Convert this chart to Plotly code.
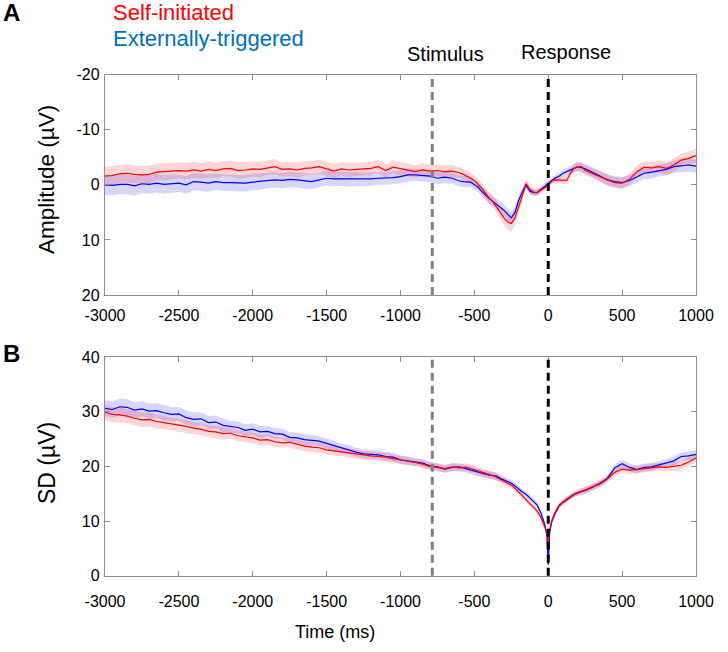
import plotly.graph_objects as go

# ---------------- data ----------------
time_ms = (list(range(-3000, -599, 50)) +
           [-575, -550, -525, -500, -475, -450, -425, -400, -375, -350,
            -325, -300, -275, -250, -225, -200, -175, -150, -125, -100,
            -75, -50, -25, -10, 0, 10, 25, 50, 75, 100,
            125, 150, 175, 200, 225, 250] +
           list(range(300, 1001, 50)))

amp_self = [-1.6, -1.7, -2.0, -2.1, -1.9, -1.8, -1.9, -2.3, -2.4, -2.5,
            -2.6, -2.5, -2.7, -2.5, -2.8, -2.6, -2.9, -3.0, -2.6, -2.7,
            -2.9, -2.8, -3.1, -3.3, -2.8, -2.9, -2.7, -3.0, -3.1, -3.3,
            -2.9, -2.5, -2.9, -2.7, -2.8, -2.9, -3.0, -3.3, -2.6, -3.2,
            -2.9, -2.7, -2.4, -2.7, -2.5, -2.6, -2.4, -2.5, -2.2,
            -1.9, -1.6, -1.2, -0.8, -0.1, 0.6, 1.5, 2.4, 3.0, 3.9,
            5.0, 6.0, 6.7, 7.0, 6.0, 4.0, 1.8, -0.2, 0.8, 1.3,
            1.4, 1.0, 0.6, 0.3, 0.0, -0.3, -0.7, -0.9, -0.9, -0.8,
            -0.8, -2.1, -3.0, -3.3, -3.3, -2.6,
            -2.1, -1.5, -0.9, -0.4, -0.3, -1.0, -2.4, -3.2, -3.1, -3.3,
            -3.0, -3.6, -4.5, -4.8, -5.3]
amp_ext = [0.0, 0.1, -0.1, -0.1, 0.2, -0.2, -0.1, -0.3, -0.1, -0.2,
           -0.3, 0.0, -0.6, -0.5, -0.3, -0.6, -0.4, -0.4, -0.3, -0.3,
           -0.5, -0.6, -0.8, -0.9, -0.8, -1.0, -0.9, -0.7, -0.6, -0.9,
           -1.2, -1.1, -1.1, -1.0, -1.1, -1.0, -1.1, -1.2, -1.2, -1.3,
           -1.5, -1.8, -1.8, -1.7, -1.6, -1.2, -1.4, -1.2, -0.7,
           -0.6, -0.6, -0.5, 0.0, 0.4, 1.2, 1.9, 2.5, 3.0, 3.5,
           4.0, 4.6, 5.3, 6.0, 5.0, 2.8, 1.3, 0.0, 1.1, 1.4,
           1.4, 0.8, 0.2, -0.1, -0.3, -0.5, -0.8, -1.3, -1.6, -2.1,
           -2.4, -2.7, -3.1, -3.3, -3.1, -2.9,
           -2.3, -1.6, -0.9, -0.6, -0.4, -0.8, -1.4, -2.1, -2.3, -2.6,
           -2.8, -3.3, -3.5, -3.6, -3.4]
amp_self_sem = [1.7, 1.7, 1.6, 1.7, 1.6, 1.6, 1.6, 1.5, 1.6, 1.5,
                1.5, 1.5, 1.5, 1.4, 1.5, 1.4, 1.4, 1.4, 1.5, 1.4,
                1.4, 1.4, 1.3, 1.4, 1.3, 1.3, 1.4, 1.3, 1.3, 1.3,
                1.3, 1.3, 1.2, 1.3, 1.2, 1.2, 1.3, 1.2, 1.2, 1.2,
                1.2, 1.2, 1.1, 1.2, 1.1, 1.1, 1.1, 1.1, 1.0,
                1.0, 1.0, 1.0, 0.9, 0.9, 0.9, 1.0, 1.0, 1.0, 1.1,
                1.2, 1.3, 1.4, 1.5, 1.4, 1.2, 1.0, 0.9, 0.8, 0.7,
                0.6, 0.6, 0.5, 0.5, 0.5, 0.5, 0.5, 0.6, 0.6, 0.7,
                0.7, 0.8, 0.8, 0.8, 0.9, 0.9,
                0.9, 1.0, 1.0, 1.0, 1.0, 1.0, 1.1, 1.1, 1.1, 1.1,
                1.2, 1.2, 1.2, 1.2, 1.3]
amp_ext_sem = [1.9, 1.8, 1.8, 1.8, 1.8, 1.7, 1.7, 1.7, 1.7, 1.7,
               1.6, 1.6, 1.6, 1.6, 1.6, 1.5, 1.5, 1.5, 1.5, 1.5,
               1.5, 1.5, 1.4, 1.4, 1.4, 1.4, 1.4, 1.4, 1.4, 1.3,
               1.3, 1.3, 1.3, 1.3, 1.3, 1.2, 1.2, 1.2, 1.2, 1.2,
               1.2, 1.2, 1.1, 1.1, 1.1, 1.1, 1.1, 1.0, 1.0,
               1.0, 1.0, 0.9, 0.9, 0.9, 0.9, 0.9, 0.9, 0.9, 1.0,
               1.0, 1.0, 1.1, 1.1, 1.0, 0.9, 0.8, 0.7, 0.7, 0.6,
               0.6, 0.5, 0.5, 0.5, 0.5, 0.5, 0.5, 0.6, 0.6, 0.7,
               0.7, 0.7, 0.8, 0.8, 0.8, 0.9,
               0.9, 0.9, 1.0, 1.0, 1.0, 1.0, 1.0, 1.1, 1.1, 1.1,
               1.1, 1.1, 1.2, 1.2, 1.2]

sd_self = [29.9, 29.5, 29.4, 29.2, 28.8, 28.5, 28.6, 28.2, 28.0, 27.8,
           27.6, 27.3, 27.0, 26.8, 26.4, 26.3, 26.0, 26.1, 25.6, 25.4,
           25.2, 24.8, 24.9, 24.5, 24.3, 24.4, 24.0, 23.7, 23.5, 23.4,
           23.0, 22.8, 22.7, 22.4, 22.2, 22.0, 21.9, 21.8, 21.7, 21.4,
           21.2, 21.0, 20.7, 20.4, 20.0, 19.8, 19.6, 19.9, 19.7,
           19.8, 19.8, 19.6, 19.4, 19.1, 18.9, 18.7, 18.5, 18.3, 18.0,
           17.6, 17.2, 16.9, 16.6, 16.0, 15.3, 14.6, 13.9, 13.3, 12.6,
           11.8, 10.7, 9.2, 8.0, 6.0, 8.5, 10.2, 11.8, 12.9, 13.4,
           13.9, 14.4, 14.8, 15.1, 15.4, 15.7,
           16.2, 16.8, 17.7, 18.9, 19.5, 19.3, 19.4, 19.6, 19.8, 19.9,
           19.8, 20.0, 20.2, 20.8, 21.5]
sd_ext = [30.6, 30.4, 30.9, 30.8, 30.3, 30.5, 30.1, 30.2, 29.8, 29.5,
          29.6, 28.9, 28.6, 28.7, 28.0, 28.1, 27.5, 27.3, 27.1, 26.6,
          26.8, 26.3, 26.4, 26.0, 25.9, 25.3, 25.2, 24.9, 24.8, 24.6,
          24.2, 23.8, 23.3, 23.0, 22.6, 22.3, 22.2, 22.1, 21.8, 21.7,
          21.2, 21.0, 20.8, 20.6, 20.1, 19.9, 19.5, 19.8, 19.9,
          19.7, 19.5, 19.3, 19.1, 18.9, 18.7, 18.6, 18.4, 18.3, 18.2,
          17.8, 17.5, 17.2, 16.9, 16.4, 15.8, 15.3, 14.9, 14.3, 13.6,
          12.9, 11.5, 9.5, 7.5, 2.0, 8.0, 10.0, 11.6, 12.8, 13.5,
          14.0, 14.5, 14.9, 15.2, 15.4, 15.6,
          16.2, 16.9, 17.8, 19.7, 20.5, 19.8, 19.4, 19.8, 19.9, 20.3,
          20.6, 21.0, 21.8, 21.9, 22.2]
sd_self_sem = [1.4, 1.4, 1.4, 1.3, 1.3, 1.3, 1.3, 1.3, 1.2, 1.2,
               1.2, 1.2, 1.1, 1.1, 1.1, 1.1, 1.1, 1.0, 1.0, 1.0,
               1.0, 1.0, 1.0, 0.9, 0.9, 0.9, 0.9, 0.9, 0.9, 0.9,
               0.8, 0.8, 0.8, 0.8, 0.8, 0.8, 0.8, 0.8, 0.8, 0.7,
               0.7, 0.7, 0.7, 0.7, 0.7, 0.7, 0.7, 0.7, 0.7,
               0.7, 0.7, 0.7, 0.7, 0.7, 0.7, 0.7, 0.7, 0.7, 0.7,
               0.6, 0.6, 0.6, 0.6, 0.6, 0.6, 0.6, 0.5, 0.5, 0.5,
               0.5, 0.5, 0.5, 0.4, 0.4, 0.4, 0.5, 0.5, 0.5, 0.5,
               0.5, 0.5, 0.5, 0.5, 0.6, 0.6,
               0.6, 0.6, 0.6, 0.7, 0.7, 0.7, 0.7, 0.7, 0.7, 0.7,
               0.7, 0.8, 0.8, 0.8, 0.8]
sd_ext_sem = [1.5, 1.5, 1.5, 1.5, 1.4, 1.4, 1.4, 1.4, 1.4, 1.3,
              1.3, 1.3, 1.3, 1.2, 1.2, 1.2, 1.2, 1.1, 1.1, 1.1,
              1.1, 1.1, 1.0, 1.0, 1.0, 1.0, 1.0, 1.0, 0.9, 0.9,
              0.9, 0.9, 0.9, 0.9, 0.8, 0.8, 0.8, 0.8, 0.8, 0.8,
              0.8, 0.8, 0.7, 0.7, 0.7, 0.7, 0.7, 0.7, 0.7,
              0.7, 0.7, 0.7, 0.7, 0.7, 0.7, 0.7, 0.7, 0.7, 0.7,
              0.6, 0.6, 0.6, 0.6, 0.6, 0.6, 0.6, 0.5, 0.5, 0.5,
              0.5, 0.5, 0.5, 0.4, 0.4, 0.4, 0.5, 0.5, 0.5, 0.5,
              0.5, 0.5, 0.5, 0.5, 0.6, 0.6,
              0.6, 0.6, 0.6, 0.7, 0.7, 0.7, 0.7, 0.7, 0.7, 0.7,
              0.7, 0.8, 0.8, 0.8, 0.8]

stimulus_ms = -785
response_ms = 0
x_ticks = [-3000, -2500, -2000, -1500, -1000, -500, 0, 500, 1000]
x_ticklabels = ["-3000", "-2500", "-2000", "-1500", "-1000", "-500", "0", "500", "1000"]
amp_ticks = [-20, -10, 0, 10, 20]
amp_ticklabels = ["-20", "-10", "0", "10", "20"]
sd_ticks = [0, 10, 20, 30, 40]
sd_ticklabels = ["0", "10", "20", "30", "40"]
conditions = ["Self-initiated", "Externally-triggered"]

# ---------------- figure ----------------
W, H = 728, 652
FONT = "Liberation Sans, Arial, Helvetica, sans-serif"
RED, BLUE = "#ff0000", "#0000ff"
RED_FILL, BLUE_FILL = "rgba(255,0,0,0.16)", "rgba(0,0,255,0.16)"
AXCOL = "#8c8c8c"

fig = go.Figure()


def band(mean, sem, fill, xa, ya):
    upper = [m + s for m, s in zip(mean, sem)]
    lower = [m - s for m, s in zip(mean, sem)]
    fig.add_trace(go.Scatter(x=time_ms + time_ms[::-1], y=upper + lower[::-1],
                             fill="toself", fillcolor=fill, mode="none",
                             hoverinfo="skip", showlegend=False, xaxis=xa, yaxis=ya))


def line(mean, color, name, xa, ya):
    fig.add_trace(go.Scatter(x=time_ms, y=mean, mode="lines", name=name,
                             line=dict(color=color, width=1.2),
                             showlegend=False, xaxis=xa, yaxis=ya))


band(amp_ext, amp_ext_sem, BLUE_FILL, "x", "y")
band(amp_self, amp_self_sem, RED_FILL, "x", "y")
line(amp_ext, BLUE, conditions[1], "x", "y")
line(amp_self, RED, conditions[0], "x", "y")

band(sd_ext, sd_ext_sem, BLUE_FILL, "x2", "y2")
band(sd_self, sd_self_sem, RED_FILL, "x2", "y2")
line(sd_ext, BLUE, conditions[1], "x2", "y2")
line(sd_self, RED, conditions[0], "x2", "y2")

x0, x1 = 105 / W, 696 / W
top_dom = [(H - 295) / H, (H - 74.7) / H]
bot_dom = [(H - 575.7) / H, (H - 357) / H]

axis_common = dict(showline=True, linecolor=AXCOL, linewidth=1.3, mirror="ticks",
                   ticks="inside", ticklen=5, tickcolor=AXCOL, tickwidth=1.2,
                   showgrid=False, zeroline=False, automargin=False,
                   tickfont=dict(family=FONT, size=16, color="black"))

fig.update_layout(
    template="none",
    width=W, height=H, margin=dict(l=0, r=0, t=0, b=0, pad=0), autosize=False,
    paper_bgcolor="white", plot_bgcolor="white", showlegend=False,
    xaxis=dict(domain=[x0, x1], anchor="y", range=[-3000, 1000], ticklabelstandoff=6,
               tickvals=x_ticks, ticktext=x_ticklabels, **axis_common),
    yaxis=dict(domain=top_dom, anchor="x", range=[20, -20], ticklabelstandoff=1,
               tickvals=amp_ticks, ticktext=amp_ticklabels, **axis_common),
    xaxis2=dict(domain=[x0, x1], anchor="y2", range=[-3000, 1000], ticklabelstandoff=11,
                tickvals=x_ticks, ticktext=x_ticklabels, **axis_common),
    yaxis2=dict(domain=bot_dom, anchor="x2", range=[0, 40], ticklabelstandoff=1,
                tickvals=sd_ticks, ticktext=sd_ticklabels, **axis_common),
)

# event lines
for xr, yr in (("x", "y domain"), ("x2", "y2 domain")):
    fig.add_shape(type="line", xref=xr, yref=yr, x0=stimulus_ms, x1=stimulus_ms, y0=0, y1=1,
                  line=dict(color="#808080", width=3, dash="8px,5px"))
    fig.add_shape(type="line", xref=xr, yref=yr, x0=response_ms, x1=response_ms, y0=0, y1=1,
                  line=dict(color="black", width=3, dash="8px,5px"))


def ann(text, xpx, ypx, size, color="black", bold=False, angle=0, xanchor="center"):
    fig.add_annotation(text=("<b>%s</b>" % text) if bold else text,
                       xref="paper", yref="paper", x=xpx / W, y=1 - ypx / H,
                       xanchor=xanchor, yanchor="middle", showarrow=False, textangle=angle,
                       font=dict(family=FONT, size=size, color=color))


ann("A", 1, 13, 24, bold=True, xanchor="left")
ann("B", 1, 353, 24, bold=True, xanchor="left")
ann(conditions[0], 111, 13, 22, color="#ff0000", xanchor="left")
ann(conditions[1], 111, 38, 22, color="#0070c0", xanchor="left")
ann("Stimulus", 445, 54, 20)
ann("Response", 566, 52, 20)
ann("Amplitude (µV)", 47, 180, 22.5, angle=-90)
ann("SD (µV)", 47, 463, 23, angle=-90)
ann("Time (ms)", 335, 632, 18)

fig.write_html("out.html", config={"displayModeBar": False},
               post_script="document.body.style.margin='0px';")
